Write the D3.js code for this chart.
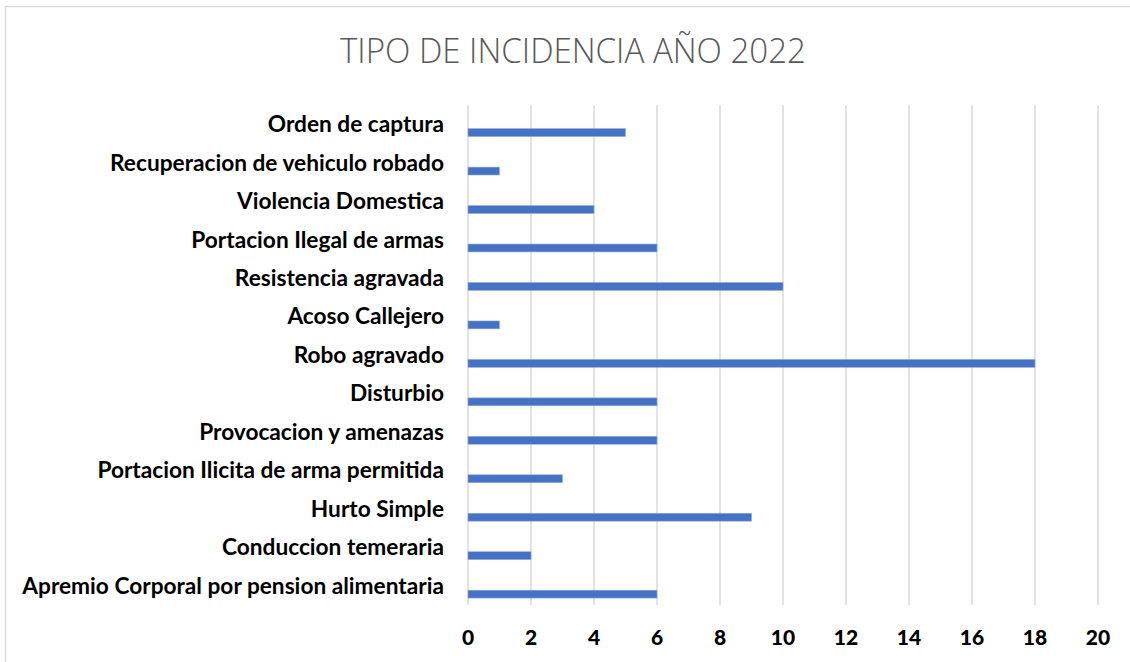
<!DOCTYPE html>
<html>
<head>
<meta charset="utf-8">
<script src="https://cdn.jsdelivr.net/npm/d3@7"></script>
<style>
  html, body { margin: 0; padding: 0; background: #fff; }
  svg { display: block; }
</style>
</head>
<body>
<svg id="chart" width="1130" height="662"></svg>
<script>
// Incident types (top to bottom) and their counts for 2022
const categories = [
  "Orden de captura",
  "Recuperacion de vehiculo robado",
  "Violencia Domestica",
  "Portacion Ilegal de armas",
  "Resistencia agravada",
  "Acoso Callejero",
  "Robo agravado",
  "Disturbio",
  "Provocacion y amenazas",
  "Portacion Ilicita de arma permitida",
  "Hurto Simple",
  "Conduccion temeraria",
  "Apremio Corporal por pension alimentaria"
];
const values = [5, 1, 4, 6, 10, 1, 18, 6, 6, 3, 9, 2, 6];
const xTicks = [0, 2, 4, 6, 8, 10, 12, 14, 16, 18, 20];
const title = "TIPO DE INCIDENCIA AÑO 2022";

const svg = d3.select("#chart");
const W = 1130, H = 662;
const plot = { left: 468, right: 1098, top: 105, bottom: 605 };

// chart area frame
svg.append("rect")
  .attr("x", 5.5).attr("y", 6.5)
  .attr("width", W + 20).attr("height", H + 20)
  .attr("fill", "#fff")
  .attr("stroke", "#d9d9d9").attr("stroke-width", 1.5);

const x = d3.scaleLinear().domain([0, 20]).range([plot.left, plot.right]);
const y = d3.scaleBand().domain(categories).range([plot.top, plot.bottom]).padding(0);

// vertical gridlines
svg.append("g").selectAll("line").data(xTicks).join("line")
  .attr("x1", d => x(d)).attr("x2", d => x(d))
  .attr("y1", plot.top).attr("y2", plot.bottom)
  .attr("stroke", "#d9d9d9").attr("stroke-width", 1.5);

// bars sit in the lower part of each category band
const bw = y.bandwidth();
svg.append("g").selectAll("rect").data(values).join("rect")
  .attr("x", x(0))
  .attr("y", (d, i) => y(categories[i]) + bw * 0.615)
  .attr("width", d => x(d) - x(0))
  .attr("height", bw * 0.205)
  .attr("fill", "#4472C4")
  .attr("stroke", "#8eaadb").attr("stroke-width", 0.6);

// category labels
const labelFont = "Lato, 'Open Sans', sans-serif";
const catG = svg.append("g");
const labels = catG.selectAll("text").data(categories).join("text")
  .attr("x", 444)
  .attr("y", d => y(d) + bw / 2)
  .attr("dy", "0.35em")
  .attr("text-anchor", "end")
  .attr("font-family", labelFont)
  .attr("font-weight", 700)
  .attr("font-size", 18)
  .attr("fill", "#000")
  .text(d => d);
// size labels so the longest one spans its full width
let longest = 0;
labels.each(function () { longest = Math.max(longest, this.getComputedTextLength()); });
labels.attr("font-size", 18 * 422 / longest);

// x axis tick labels
svg.append("g").selectAll("text").data(xTicks).join("text")
  .attr("x", d => x(d))
  .attr("y", 637)
  .attr("dy", "0.36em")
  .attr("text-anchor", "middle")
  .attr("font-family", labelFont)
  .attr("font-weight", 900)
  .attr("font-size", 21)
  .attr("fill", "#000")
  .text(d => d);

// title
svg.append("text")
  .attr("x", 573).attr("y", 50)
  .attr("dy", "0.36em")
  .attr("text-anchor", "middle")
  .attr("font-family", "'Open Sans', Lato, sans-serif")
  .attr("font-weight", 300)
  .attr("font-size", 35)
  .attr("fill", "#595959")
  .attr("textLength", 466)
  .attr("lengthAdjust", "spacingAndGlyphs")
  .text(title);
</script>
</body>
</html>
